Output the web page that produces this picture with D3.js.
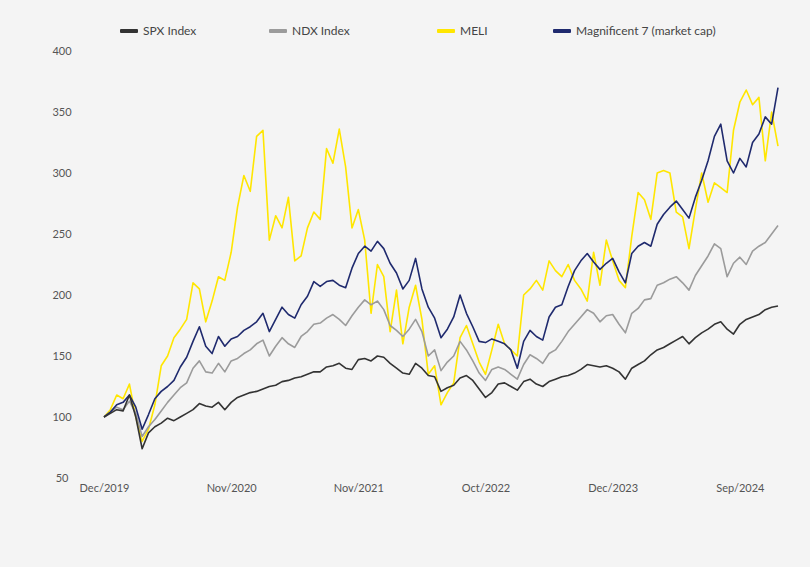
<!DOCTYPE html>
<html>
<head>
<meta charset="utf-8">
<script src="https://cdn.jsdelivr.net/npm/d3@7"></script>
<style>
  body { margin: 0; background: #f4f4f4; }
  text { font-family: Lato, "Open Sans", sans-serif; }
</style>
</head>
<body>
<div id="chart"></div>
<script>
// index based x axis, labels every 20 points
var xLabels = ["Dec/2019", "Nov/2020", "Nov/2021", "Oct/2022", "Dec/2023", "Sep/2024"];
var xTickIdx = [0, 20, 40, 60, 80, 100];
var yTicks = [50, 100, 150, 200, 250, 300, 350, 400];

var seriesNames = ["SPX Index", "NDX Index", "MELI", "Magnificent 7 (market cap)"];

var spx = [100,103,106,105,118,100,74,87,92,95,99,97,100,103,106,111,109,108,112,106,
  112,116,118,120,121,123,125,126,129,130,132,133,135,137,137,141,142,144,140,139,
  147,148,146,150,149,144,140,136,135,144,140,134,133,121,124,126,132,134,130,123,
  116,120,127,128,125,122,129,131,127,125,129,131,133,134,136,139,143,142,141,142,
  140,137,131,140,143,146,151,155,157,160,163,166,160,165,169,172,176,178,172,168,
  176,180,182,184,188,190,191];

var ndx = [100,104,108,106,113,103,84,92,98,105,112,118,124,128,140,146,137,136,144,137,
  146,148,152,155,160,163,150,158,165,160,157,166,170,176,177,181,184,180,175,183,
  190,196,192,195,188,175,171,166,172,180,170,150,155,138,145,150,162,155,146,136,
  130,139,141,139,135,131,143,151,148,144,152,155,162,170,176,182,188,185,178,183,
  184,176,169,185,189,196,197,208,210,213,215,210,204,216,224,232,242,238,215,226,
  231,225,236,240,243,250,257];

var meli = [100,106,118,115,127,100,80,90,110,142,150,165,172,180,210,205,178,195,215,212,
  235,272,298,285,330,335,245,265,255,280,228,232,255,268,262,320,308,336,305,255,
  270,245,185,225,215,170,204,160,190,208,180,135,142,110,120,128,165,175,160,145,
  135,155,176,160,155,150,200,205,212,204,228,220,215,225,212,205,195,235,208,245,
  228,212,206,248,284,278,262,300,302,300,268,264,238,270,300,276,292,288,284,335,
  358,368,356,362,310,350,322];

var mag7 = [100,104,110,112,118,108,90,102,115,121,125,130,141,149,162,174,158,152,166,158,
  164,166,171,174,178,185,170,180,190,184,181,192,199,211,207,211,212,208,206,222,
  234,240,236,244,238,226,218,205,212,230,205,190,181,165,172,182,200,185,174,162,
  161,164,162,160,155,140,162,171,166,163,182,190,192,207,220,228,234,227,221,226,
  230,219,210,234,240,243,240,258,266,272,277,270,263,280,294,310,330,340,310,300,
  312,305,325,332,346,340,370];

var colors = ["#333333", "#9b9b9b", "#ffe600", "#1f2a6e"];

var width = 810, height = 567;

var x = d3.scaleLinear().domain([0, spx.length - 1]).range([104, 778]);
var y = d3.scaleLinear().domain([50, 400]).range([478, 51]);

var svg = d3.select("#chart")
  .append("svg")
  .attr("width", width)
  .attr("height", height)
  .style("background", "#f4f4f4");

// y axis, labels only
var yAxis = svg.append("g")
  .attr("transform", "translate(62,0)")
  .call(d3.axisLeft(y).tickValues(yTicks).tickSize(0).tickPadding(0));
yAxis.select(".domain").remove();
yAxis.selectAll("text")
  .attr("text-anchor", "middle")
  .style("font-size", "11px")
  .style("fill", "#555");

// x axis, labels only
var xAxis = svg.append("g")
  .attr("transform", "translate(0,484)")
  .call(d3.axisBottom(x).tickValues(xTickIdx)
    .tickFormat(function(d, i) { return xLabels[i]; })
    .tickSize(0).tickPadding(0));
xAxis.select(".domain").remove();
xAxis.selectAll("text")
  .style("font-size", "11px")
  .style("fill", "#555");

var line = d3.line()
  .x(function(d, i) { return x(i); })
  .y(function(d) { return y(d); });

var data = [spx, ndx, meli, mag7];
var order = [2, 1, 3, 0];

order.forEach(function(k) {
  svg.append("path")
    .datum(data[k])
    .attr("fill", "none")
    .attr("stroke", colors[k])
    .attr("stroke-width", 1.6)
    .attr("stroke-linejoin", "round")
    .attr("d", line);
});

// legend
var legendX = [120, 269, 437, 553];
var legend = svg.selectAll(".legend")
  .data(seriesNames)
  .enter()
  .append("g")
  .attr("class", "legend")
  .attr("transform", function(d, i) { return "translate(" + legendX[i] + ",31)"; });

legend.append("rect")
  .attr("x", 0)
  .attr("y", -2)
  .attr("width", 18)
  .attr("height", 4)
  .attr("rx", 1)
  .style("fill", function(d, i) { return colors[i]; });

legend.append("text")
  .attr("x", 23)
  .attr("y", 0)
  .attr("dy", "0.35em")
  .style("font-size", "12px")
  .style("fill", "#444")
  .text(function(d) { return d; });
</script>
</body>
</html>
